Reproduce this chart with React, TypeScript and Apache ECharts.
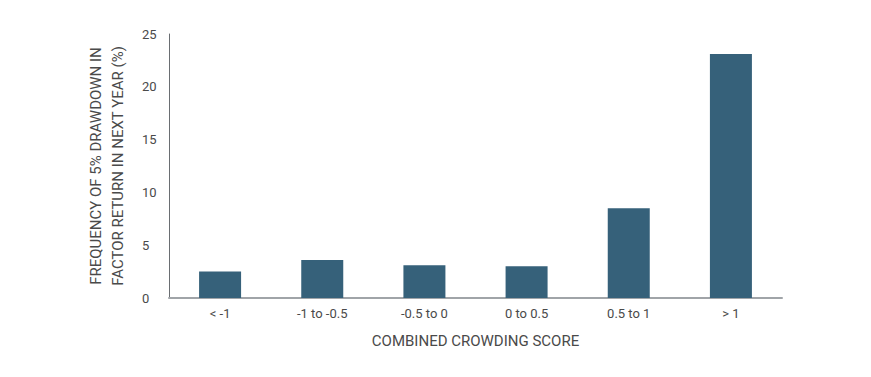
import React, { useEffect, useRef } from "react";
import * as echarts from "echarts";

const categories = ["< -1", "-1 to -0.5", "-0.5 to 0", "0 to 0.5", "0.5 to 1", "> 1"];
const values = [2.5, 3.6, 3.1, 3.0, 8.5, 23.1];
const yTicks = { min: 0, max: 25, interval: 5 };
const xAxisTitle = "COMBINED CROWDING SCORE";
const yAxisTitle = "FREQUENCY OF 5% DRAWDOWN IN\nFACTOR RETURN IN NEXT YEAR (%)";

export default function App() {
  const ref = useRef<HTMLDivElement>(null);
  useEffect(() => {
    if (!ref.current) return;
    const chart = echarts.init(ref.current, null, { renderer: "svg" });
    const font = "Roboto, sans-serif";
    chart.setOption({
      animation: false,
      grid: { left: 161, right: 81, top: 26, bottom: 71 },
      xAxis: {
        type: "category",
        data: categories,
        axisLine: { lineStyle: { color: "#a0a4a8", width: 2 } },
        axisTick: { show: false },
        axisLabel: { color: "#4a4a4a", fontSize: 13, fontFamily: font, margin: 9 },
        name: xAxisTitle,
        nameLocation: "middle",
        nameGap: 35,
        nameTextStyle: { color: "#4a4a4a", fontSize: 15, fontFamily: font },
      },
      yAxis: {
        type: "value",
        min: yTicks.min,
        max: yTicks.max,
        interval: yTicks.interval,
        axisLine: { show: true, lineStyle: { color: "#6a6e72", width: 1 } },
        axisTick: { show: false },
        splitLine: { show: false },
        axisLabel: { color: "#4a4a4a", fontSize: 13, fontFamily: font, margin: 27, align: "left" },
        name: yAxisTitle,
        nameLocation: "middle",
        nameGap: 40,
        nameRotate: 90,
        nameTextStyle: { color: "#4a4a4a", fontSize: 15, fontFamily: font, lineHeight: 22 },
      },
      series: [
        {
          type: "bar",
          data: values,
          barWidth: 42,
          itemStyle: { color: "#36617a" },
        },
      ],
    });
    return () => chart.dispose();
  }, []);
  return <div ref={ref} style={{ width: 855, height: 361 }} />;
}
